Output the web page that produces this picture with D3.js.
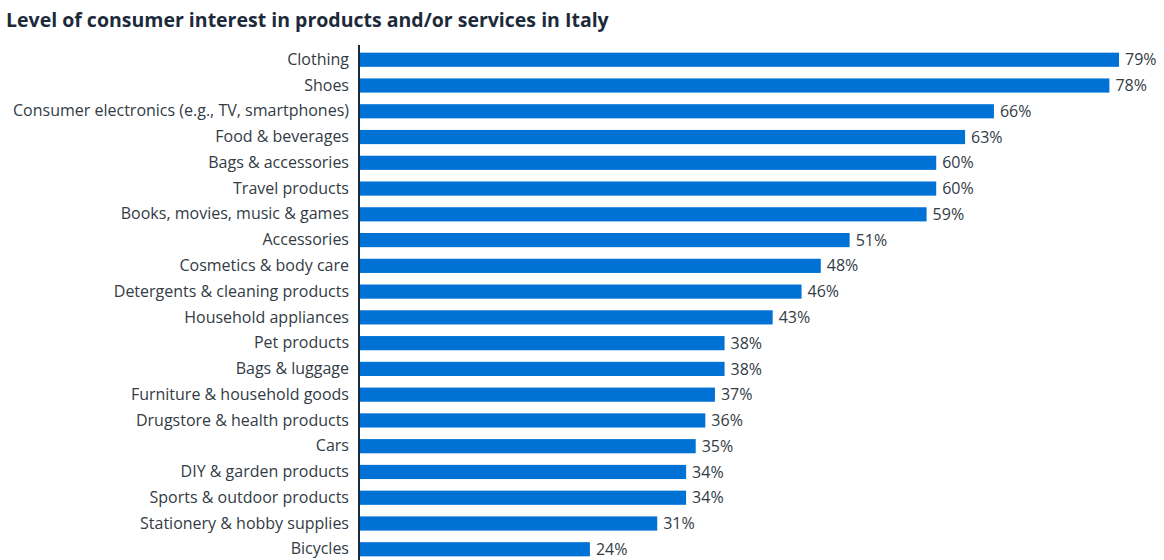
<!DOCTYPE html>
<html>
<head>
<meta charset="utf-8">
<script src="https://cdn.jsdelivr.net/npm/d3@7"></script>
<style>
  html, body { margin: 0; padding: 0; background: #fff; }
  svg { display: block; font-family: "Open Sans", sans-serif; }
</style>
</head>
<body>
<svg id="chart" width="1164" height="560"></svg>
<script>
const categories = [
  "Clothing", "Shoes", "Consumer electronics (e.g., TV, smartphones)",
  "Food & beverages", "Bags & accessories", "Travel products",
  "Books, movies, music & games", "Accessories", "Cosmetics & body care",
  "Detergents & cleaning products", "Household appliances", "Pet products",
  "Bags & luggage", "Furniture & household goods", "Drugstore & health products",
  "Cars", "DIY & garden products", "Sports & outdoor products",
  "Stationery & hobby supplies", "Bicycles"
];
const values = [79, 78, 66, 63, 60, 60, 59, 51, 48, 46, 43, 38, 38, 37, 36, 35, 34, 34, 31, 24];
const titleText = "Level of consumer interest in products and/or services in Italy";

const svg = d3.select("#chart");
const axisX = 359;

svg.append("text")
  .attr("x", 6).attr("y", 27)
  .attr("font-size", 19.5).attr("font-weight", 700)
  .attr("fill", "#1c2a3a")
  .text(titleText);

const x = d3.scaleLinear().domain([0, 79]).range([axisX, 1119]);
const y = d3.scaleBand().domain(categories).range([47, 562]).paddingInner(0.45).paddingOuter(0.22);

svg.selectAll("rect.bar").data(categories).join("rect")
  .attr("class", "bar")
  .attr("x", x(0))
  .attr("y", d => y(d))
  .attr("width", (d, i) => x(values[i]) - x(0))
  .attr("height", y.bandwidth())
  .attr("fill", "#0071d5");

const yAxis = svg.append("g")
  .attr("transform", `translate(${axisX},0)`)
  .call(d3.axisLeft(y).tickSize(0).tickPadding(10));
yAxis.select(".domain").attr("stroke", "#1c2a3a").attr("stroke-width", 2)
  .attr("d", `M0,45V560`);
yAxis.selectAll("text")
  .attr("font-family", "Open Sans, sans-serif")
  .attr("font-size", 16).attr("fill", "#333b45");

svg.selectAll("text.val").data(categories).join("text")
  .attr("class", "val")
  .attr("x", (d, i) => x(values[i]) + 6)
  .attr("y", d => y(d) + y.bandwidth() / 2)
  .attr("dy", "0.35em")
  .attr("font-size", 16).attr("fill", "#333b45")
  .text((d, i) => values[i] + "%");
</script>
</body>
</html>
